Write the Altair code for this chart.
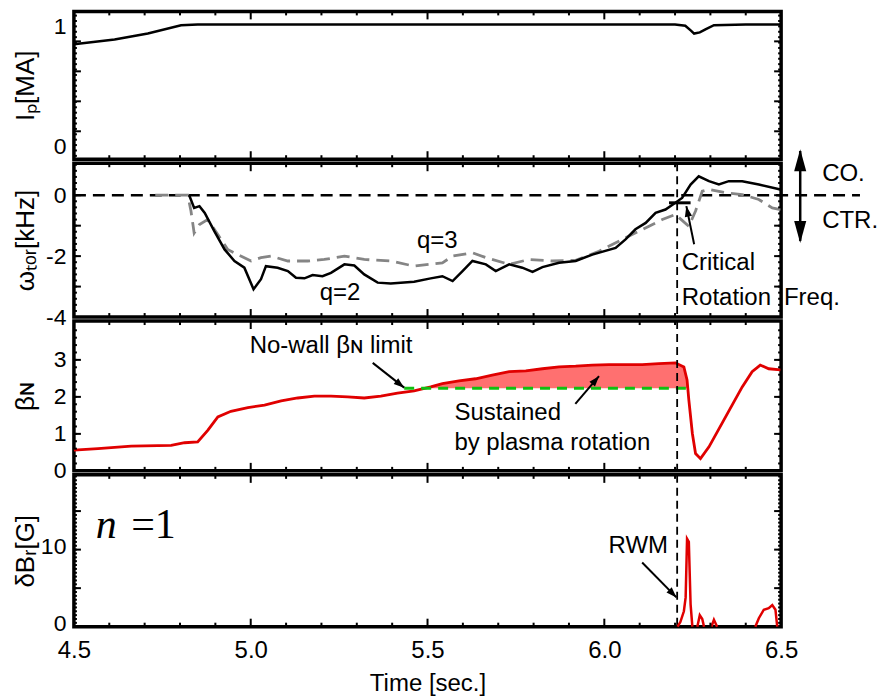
import altair as alt
import pandas as pd
import math

# ---------------- data ----------------
# Plasma current Ip [MA]
ip_t = [4.5, 4.615, 4.709, 4.803, 4.85, 5.0, 5.5, 6.0, 6.2, 6.229, 6.245, 6.254, 6.27, 6.286, 6.31, 6.4, 6.5]
ip_v = [0.85, 0.89, 0.94, 1.01, 1.015, 1.015, 1.015, 1.015, 1.015, 1.005, 0.965, 0.94, 0.95, 0.975, 1.01, 1.015, 1.015]

# Toroidal rotation at q=2 (black) [kHz]
w2_t = [4.826, 4.84, 4.855, 4.87, 4.897, 4.926, 4.954, 4.982, 5.008, 5.029, 5.043, 5.076, 5.105, 5.128,
        5.152, 5.175, 5.203, 5.227, 5.265, 5.293, 5.321, 5.359, 5.396, 5.462, 5.509, 5.542, 5.571, 5.599,
        5.627, 5.665, 5.693, 5.731, 5.768, 5.797, 5.825, 5.872, 5.919, 5.966, 6.032, 6.06, 6.088, 6.117,
        6.145, 6.173, 6.201, 6.22, 6.244, 6.267, 6.296, 6.324, 6.352, 6.39, 6.437, 6.498]
w2_v = [0.0, -0.42, -0.36, -0.58, -1.18, -1.78, -2.16, -2.38, -3.09, -2.76, -2.33, -2.38, -2.49, -2.71,
        -2.73, -2.62, -2.66, -2.55, -2.27, -2.31, -2.6, -2.87, -2.9, -2.84, -2.73, -2.66, -2.82, -2.49,
        -2.16, -2.27, -2.49, -2.27, -2.38, -2.52, -2.36, -2.22, -2.16, -1.95, -1.73, -1.45, -1.12, -0.91,
        -0.58, -0.47, -0.25, -0.09, 0.35, 0.62, 0.46, 0.35, 0.46, 0.46, 0.35, 0.19]

# Toroidal rotation at q=3 (grey dashed) [kHz]
w3_t = [4.73, 4.822, 4.831, 4.84, 4.855, 4.878, 4.907, 4.935, 4.963, 5.001, 5.029, 5.057, 5.105, 5.161,
        5.208, 5.265, 5.321, 5.396, 5.462, 5.542, 5.571, 5.627, 5.665, 5.731, 5.787, 5.853, 5.919, 5.985,
        6.041, 6.098, 6.164, 6.201, 6.239, 6.258, 6.277, 6.296, 6.343, 6.39, 6.437, 6.475, 6.498]
w3_v = [0.0, 0.0, -0.52, -1.24, -0.96, -0.8, -1.29, -1.78, -1.95, -2.16, -2.05, -2.0, -2.16, -2.16,
        -2.11, -2.0, -2.11, -2.16, -2.33, -2.22, -2.0, -1.89, -2.05, -2.27, -2.11, -2.16, -2.14, -1.84,
        -1.51, -1.18, -0.8, -0.63, -1.02, -0.52, 0.13, 0.19, 0.08, 0.02, -0.14, -0.42, -0.47]

# Normalized beta
bn_t = [4.5, 4.568, 4.662, 4.775, 4.813, 4.85, 4.879, 4.907, 4.944, 4.992, 5.039, 5.086, 5.133, 5.18,
        5.227, 5.274, 5.321, 5.368, 5.415, 5.462, 5.509, 5.542, 5.589, 5.636, 5.683, 5.731, 5.778, 5.825,
        5.872, 5.919, 5.966, 6.013, 6.06, 6.107, 6.154, 6.201, 6.225, 6.234, 6.239, 6.249, 6.258, 6.272,
        6.296, 6.343, 6.39, 6.418, 6.441, 6.465, 6.498]
bn_v = [0.56, 0.6, 0.67, 0.69, 0.76, 0.78, 1.1, 1.46, 1.61, 1.71, 1.78, 1.89, 1.97, 2.02,
        2.02, 2.0, 1.97, 2.02, 2.1, 2.16, 2.27, 2.36, 2.43, 2.49, 2.59, 2.68, 2.7, 2.76,
        2.81, 2.83, 2.86, 2.87, 2.87, 2.87, 2.9, 2.92, 2.81, 2.46, 1.92, 1.01, 0.47, 0.33,
        0.65, 1.46, 2.27, 2.68, 2.86, 2.76, 2.73]
nowall_limit = 2.23
nowall_t = [5.434, 6.239]
fill_start = 5.48
fill_end = 6.236

# n=1 radial field perturbation [G] (separate bursts)
db_seg = ["a", "a", "a", "a", "a", "a", "a", "a", "b", "b", "b", "b", "c", "c", "c",
          "d", "d", "d", "d", "d", "d", "d"]
db_t = [6.207, 6.215, 6.225, 6.23, 6.234, 6.239, 6.244, 6.249, 6.263, 6.27, 6.277, 6.282, 6.303, 6.31, 6.319,
        6.427, 6.437, 6.451, 6.465, 6.475, 6.484, 6.489]
db_v = [0.0, 0.6, 2.0, 3.8, 11.4, 11.0, 2.9, 0.0, 0.0, 1.5, 1.0, 0.0, 0.0, 0.9, 0.0,
        0.0, 1.1, 2.2, 2.4, 2.8, 2.2, 0.0]

t_rwm = 6.206          # vertical dashed marker
crit_t = [6.183, 6.244]
crit_v = -0.25

# axis labels / ticks
x_labels = [4.5, 5.0, 5.5, 6.0, 6.5]
x_major_ticks = [5.0, 5.5, 6.0]
x_minor_ticks = [4.6, 4.7, 4.8, 4.9, 5.1, 5.2, 5.3, 5.4, 5.6, 5.7, 5.8, 5.9, 6.1, 6.2, 6.3, 6.4]
ip_labels = [0, 1]
w_labels = [-4, -2, 0]
bn_labels = [0, 1, 2, 3]
db_labels = [0, 10]

ip_major = [0.125, 0.375, 0.625, 0.875]
w_major = [-3, -2, -1, 0]
bn_major = [1, 2, 3]
db_major = [5, 10, 15]

# ---------------- layout ----------------
W = 708
H1, H2, H3, H4 = 148, 154, 150, 152
D1, D2, D3, D4 = [-0.108, 1.125], [-4.0, 1.05], [0.0, 4.05], [0.0, 19.7]
FONT = "Liberation Sans"
PX_X = W / 2.0


def minor_list(lo, hi, step):
    n = int(round((hi - lo) / step))
    return [round(lo + i * step, 4) for i in range(n + 1)]


def make_enc(height, ydom, yvals, ytitle, show_x, label_offset=0):
    xs = alt.Scale(domain=[4.5, 6.5], nice=False, zero=False)
    ys = alt.Scale(domain=ydom, nice=False, zero=False)
    if show_x:
        xa = alt.Axis(values=x_labels, format=".1f", title="Time [sec.]", ticks=False, domain=False,
                      grid=False, labelFont=FONT, labelFontSize=24, labelPadding=12, labelFlush=False,
                      labelColor="black", titleFont=FONT, titleFontSize=24, titleFontWeight="normal",
                      titleColor="black", titlePadding=9)
    else:
        xa = None
    ya = alt.Axis(values=yvals, title=ytitle, ticks=False, domain=False, grid=False,
                  labelFont=FONT, labelFontSize=23, labelPadding=8, labelColor="black",
                  labelExpr="'' + datum.value", labelOffset=label_offset,
                  titleFont=FONT, titleFontSize=26, titleFontWeight="normal", titleColor="black",
                  titleX=-48, titleY=height / 2, titleAngle=270, titleAlign="center",
                  titleBaseline="middle")

    def X(f):
        return alt.X(f, type="quantitative", scale=xs, axis=xa)

    def Y(f):
        return alt.Y(f, type="quantitative", scale=ys, axis=ya)

    return X, Y


def tick_layers(X, Y, H, ymajor, yminor):
    out = []
    for vals, L in [(x_major_ticks, 8), (x_minor_ticks, 4)]:
        base = alt.Chart(pd.DataFrame({"t": vals})).mark_rule(color="black", strokeWidth=2)
        out.append(base.encode(x=X("t"), y=alt.value(0), y2=alt.value(L)))
        out.append(base.encode(x=X("t"), y=alt.value(H), y2=alt.value(H - L)))
    for vals, L in [(ymajor, 7), (yminor, 3)]:
        base = alt.Chart(pd.DataFrame({"v": vals})).mark_rule(color="black", strokeWidth=2)
        out.append(base.encode(y=Y("v"), x=alt.value(0), x2=alt.value(L)))
        out.append(base.encode(y=Y("v"), x=alt.value(W), x2=alt.value(W - L)))
    return out


HEAD = "M0,0L0.7,2L-0.7,2Z"


def arrow_layers(X, Y, x1, y1, x2, y2, py_per_unit):
    dx = (x2 - x1) * PX_X
    dy = -(y2 - y1) * py_per_unit
    ang = math.degrees(math.atan2(dx, -dy)) % 360
    df = pd.DataFrame({"x1": [x1], "y1": [y1], "x2": [x2], "y2": [y2], "ang": [ang]})
    shaft = alt.Chart(df).mark_rule(color="black", strokeWidth=2).encode(
        x=X("x1"), y=Y("y1"), x2=alt.X2("x2"), y2=alt.Y2("y2"))
    head = alt.Chart(df).mark_point(shape=HEAD, filled=True, color="black", opacity=1, size=110,
                                    strokeWidth=0).encode(
        x=X("x2"), y=Y("y2"), angle=alt.Angle("ang:Q", scale=None))
    return [shaft, head]


def text_layer(X, Y, x, y, txt, size=24, font=FONT, style="normal", baseline="middle"):
    df = pd.DataFrame({"x": [x], "y": [y], "s": [txt]})
    return alt.Chart(df).mark_text(align="left", baseline=baseline, font=font, fontSize=size,
                                   fontStyle=style, color="black").encode(
        x=X("x"), y=Y("y"), text="s:N")


# ---------------- panel 1 : Ip ----------------
X1, Y1 = make_enc(H1, D1, ip_labels, "Iₚ[MA]", False)
ip_df = pd.DataFrame({"t": ip_t, "v": ip_v})
p1_layers = [alt.Chart(ip_df).mark_line(color="black", strokeWidth=2.5).encode(x=X1("t"), y=Y1("v"))]
p1_layers += tick_layers(X1, Y1, H1, ip_major, minor_list(-0.08, 1.1, 0.045))
p1 = alt.layer(*p1_layers).properties(width=W, height=H1)

# ---------------- panel 2 : rotation ----------------
PY2 = H2 / (D2[1] - D2[0])
X2, Y2 = make_enc(H2, D2, w_labels, "ωₜₒᵣ[kHz]", False)
w2_df = pd.DataFrame({"t": w2_t, "v": w2_v})
w3_df = pd.DataFrame({"t": w3_t, "v": w3_v})
zero_df = pd.DataFrame({"x1": [4.5], "x2": [6.723], "v": [0.0]})
p2_layers = [
    alt.Chart(zero_df).mark_rule(color="black", strokeWidth=2.5, strokeDash=[12, 7]).encode(
        x=X2("x1"), x2=alt.X2("x2"), y=Y2("v")),
    alt.Chart(w3_df).mark_line(color="#858585", strokeWidth=2.8, strokeDash=[13, 7]).encode(
        x=X2("t"), y=Y2("v")),
    alt.Chart(w2_df).mark_line(color="black", strokeWidth=2.5).encode(x=X2("t"), y=Y2("v")),
    alt.Chart(pd.DataFrame({"t": [t_rwm]})).mark_rule(color="black", strokeWidth=1.8,
                                                      strokeDash=[8, 5]).encode(x=X2("t")),
    alt.Chart(pd.DataFrame({"x1": [crit_t[0]], "x2": [crit_t[1]], "v": [crit_v]})).mark_rule(
        color="black", strokeWidth=3).encode(x=X2("x1"), x2=alt.X2("x2"), y=Y2("v")),
    text_layer(X2, Y2, 5.47, -1.51, "q=3"),
    text_layer(X2, Y2, 5.195, -3.21, "q=2"),
    text_layer(X2, Y2, 6.219, -2.23, "Critical"),
    text_layer(X2, Y2, 6.219, -3.38, "Rotation"),
    text_layer(X2, Y2, 6.508, -3.38, "Freq."),
    text_layer(X2, Y2, 6.616, 0.69, "CO."),
    text_layer(X2, Y2, 6.616, -0.85, "CTR."),
]
p2_layers += arrow_layers(X2, Y2, 6.254, -1.61, 6.232, -0.36, PY2)
# CO / CTR double arrow
co_df = pd.DataFrame({"x": [6.554], "y1": [1.45], "y2": [-1.5]})
p2_layers.append(alt.Chart(co_df).mark_rule(color="black", strokeWidth=2.5).encode(
    x=X2("x"), y=Y2("y1"), y2=alt.Y2("y2")))
tips_df = pd.DataFrame({"x": [6.554, 6.554], "y": [1.51, -1.57], "ang": [0, 180]})
p2_layers.append(alt.Chart(tips_df).mark_point(shape="M0,0L0.55,2L-0.55,2Z", filled=True, color="black",
                                                opacity=1, size=484, strokeWidth=0).encode(
    x=X2("x"), y=Y2("y"), angle=alt.Angle("ang:Q", scale=None)))
p2_layers += tick_layers(X2, Y2, H2, w_major, minor_list(-3.8, 1.0, 0.2))
p2 = alt.layer(*p2_layers).properties(width=W, height=H2)

# ---------------- panel 3 : beta_N ----------------
PY3 = H3 / (D3[1] - D3[0])
X3, Y3 = make_enc(H3, D3, bn_labels, "βɴ", False)
bn_df = pd.DataFrame({"t": bn_t, "v": bn_v})
f_t = [fill_start] + [t for t in bn_t if fill_start < t < fill_end] + [fill_end]
f_v = [nowall_limit] + [v for t, v in zip(bn_t, bn_v) if fill_start < t < fill_end] + [nowall_limit]
fill_df = pd.DataFrame({"t": f_t, "v": f_v, "base": [nowall_limit] * len(f_t)})
nw_df = pd.DataFrame({"x1": [nowall_t[0]], "x2": [nowall_t[1]], "v": [nowall_limit]})
p3_layers = [
    alt.Chart(fill_df).mark_area(color="#ff7070", opacity=1).encode(
        x=X3("t"), y=Y3("v"), y2=alt.Y2("base")),
    alt.Chart(bn_df).mark_line(color="#e00000", strokeWidth=2.8).encode(x=X3("t"), y=Y3("v")),
    alt.Chart(nw_df).mark_rule(color="#10c010", strokeWidth=3, strokeDash=[10, 7]).encode(
        x=X3("x1"), x2=alt.X2("x2"), y=Y3("v")),
    alt.Chart(pd.DataFrame({"t": [t_rwm]})).mark_rule(color="black", strokeWidth=1.8,
                                                      strokeDash=[8, 5]).encode(x=X3("t")),
    text_layer(X3, Y3, 4.997, 3.37, "No-wall βɴ limit"),
    text_layer(X3, Y3, 5.576, 1.57, "Sustained"),
    text_layer(X3, Y3, 5.576, 0.76, "by plasma rotation"),
]
p3_layers += arrow_layers(X3, Y3, 5.345, 2.92, 5.434, 2.25, PY3)
p3_layers += arrow_layers(X3, Y3, 5.918, 1.81, 5.985, 2.56, PY3)
p3_layers += tick_layers(X3, Y3, H3, bn_major, minor_list(0.2, 3.8, 0.2))
p3 = alt.layer(*p3_layers).properties(width=W, height=H3)

# ---------------- panel 4 : delta Br ----------------
PY4 = H4 / (D4[1] - D4[0])
X4, Y4 = make_enc(H4, D4, db_labels, "δBᵣ[G]", True, label_offset=-3)
db_df = pd.DataFrame({"t": db_t, "v": db_v, "seg": db_seg})
p4_layers = [
    alt.Chart(pd.DataFrame({"t": [t_rwm]})).mark_rule(color="black", strokeWidth=1.8,
                                                      strokeDash=[8, 5]).encode(x=X4("t")),
    alt.Chart(db_df).mark_line(color="#e00000", strokeWidth=2.5).encode(
        x=X4("t"), y=Y4("v"), detail="seg:N"),
    text_layer(X4, Y4, 6.012, 10.5, "RWM"),
    text_layer(X4, Y4, 4.562, 11.53, "n", size=42, font="Liberation Serif", style="italic",
               baseline="alphabetic"),
    text_layer(X4, Y4, 4.662, 11.53, "=1", size=42, font="Liberation Serif", baseline="alphabetic"),
]
p4_layers += arrow_layers(X4, Y4, 6.107, 8.33, 6.204, 3.8, PY4)
p4_layers += tick_layers(X4, Y4, H4, db_major, minor_list(0.5, 19.5, 0.5))
p4 = alt.layer(*p4_layers).properties(width=W, height=H4)

chart = alt.vconcat(p1, p2, p3, p4, spacing=4, bounds="flush").properties(
    padding={"left": 3, "top": 0, "right": 2, "bottom": 0}
).configure_view(stroke="black", strokeWidth=3.5)

chart.save("out.html", embed_options={"renderer": "svg", "actions": False})
